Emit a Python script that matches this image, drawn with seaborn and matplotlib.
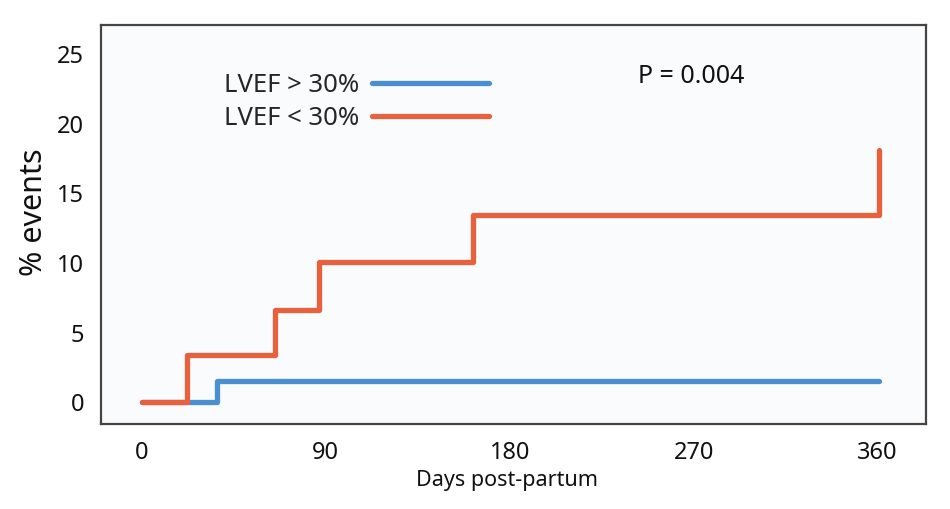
import pandas as pd
import numpy as np
import matplotlib.pyplot as plt
import seaborn as sns

# Kaplan-Meier style cumulative events
days_high = [0, 37, 360.5]
events_high = [0, 1.5, 1.5]
days_low = [0, 22, 65, 86.7, 161.8, 360.5]
events_low = [0, 3.4, 6.65, 10.1, 13.45, 18.1]

label_high = 'LVEF > 30%'
label_low = 'LVEF < 30%'
x_ticks = [0, 90, 180, 270, 360]
y_ticks = [0, 5, 10, 15, 20, 25]

df = pd.concat([
    pd.DataFrame({'day': days_high, 'pct': events_high, 'group': label_high}),
    pd.DataFrame({'day': days_low, 'pct': events_low, 'group': label_low}),
])

sns.set_style('white')
plt.rcParams['font.family'] = ['Noto Sans', 'DejaVu Sans']

fig = plt.figure(figsize=(9.5, 5.09), dpi=100)
ax = fig.add_axes([0.1063, 0.167, 0.8681, 0.7839])
ax.set_facecolor('#fafbfd')

sns.lineplot(data=df, x='day', y='pct', hue='group',
             palette={label_high: '#4a8fd2', label_low: '#e8603c'},
             hue_order=[label_high, label_low],
             drawstyle='steps-post', linewidth=3.8, sort=False,
             estimator=None, ax=ax)

ax.set_xlim(-20, 383.5)
ax.set_ylim(-1.55, 27.08)
ax.set_xticks(x_ticks)
ax.set_yticks(y_ticks)
ax.tick_params(axis='both', direction='out', length=8, width=2, color='#333333',
               labelsize=17, labelcolor='#111111', pad=4)
for s in ax.spines.values():
    s.set_color('#444444')
    s.set_linewidth(1.6)

ax.set_xlabel('Days post-partum', fontsize=15.5, color='#111111', labelpad=4)
ax.set_ylabel('% events', fontsize=22, color='#111111', labelpad=6)
ax.xaxis.label.set_x(0.492)
ax.yaxis.label.set_y(0.531)

ax.legend(loc='upper left', bbox_to_anchor=(0.1215, 0.937), frameon=False,
          markerfirst=False, handlelength=4.55, fontsize=18.5,
          labelspacing=0.32, handletextpad=0.5)
ax.text(0.651, 0.87, 'P = 0.004', transform=ax.transAxes, fontsize=18,
        color='#111111', ha='left', va='center')

fig.savefig('out.png', dpi=100, facecolor='white')
